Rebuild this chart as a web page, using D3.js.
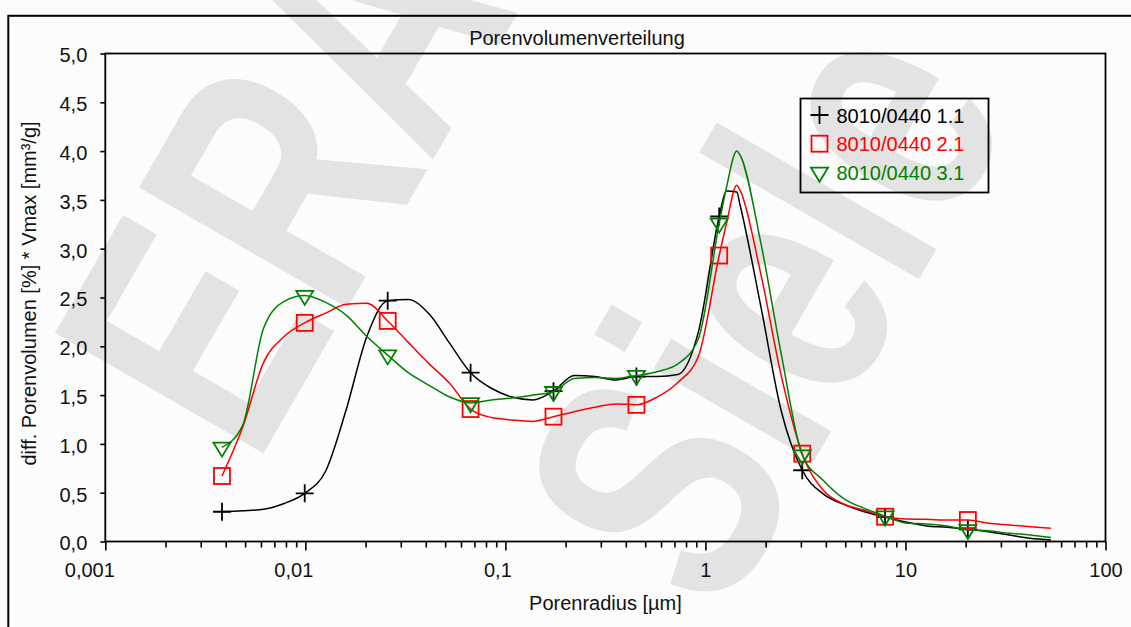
<!DOCTYPE html>
<html>
<head>
<meta charset="utf-8">
<script src="https://cdn.jsdelivr.net/npm/d3@7"></script>
<style>
  html, body { margin: 0; padding: 0; background: #fcfcfc; }
  svg { display: block; }
  text { font-family: "Liberation Sans", Arial, sans-serif; fill: #111; }
</style>
</head>
<body>
<svg id="chart" width="1131" height="627"></svg>
<script>
// Pore radius grid [µm] shared by all three samples
const radius = [
  0.00383, 0.00486, 0.00617, 0.00783, 0.00993, 0.01262, 0.0160, 0.0203, 0.0258, 0.0327,
  0.0416, 0.0527, 0.0670, 0.0851, 0.108, 0.137, 0.174, 0.221, 0.280, 0.356,
  0.452, 0.573, 0.728, 0.923, 1.172, 1.272, 1.435, 1.489, 1.888, 2.399,
  3.048, 3.864, 4.909, 6.223, 7.907, 10.02, 12.74, 16.18, 20.51, 26.06,
  33.04, 41.98, 53.33
];

// diff. pore volume [%] * Vmax [mm³/g]
const sample11 = [
  0.305, 0.315, 0.33, 0.39, 0.494, 0.72, 1.35, 2.10, 2.467, 2.48,
  2.33, 2.03, 1.73, 1.57, 1.48, 1.45, 1.54, 1.70, 1.69, 1.655,
  1.69, 1.69, 1.71, 2.15, 3.33, 3.59, 3.58, 3.45, 2.42, 1.33,
  0.73, 0.49, 0.38, 0.305, 0.25, 0.20, 0.16, 0.145, 0.125, 0.10,
  0.067, 0.033, 0.015
];
const sample21 = [
  0.671, 1.17, 1.83, 2.10, 2.24, 2.34, 2.43, 2.44, 2.26, 2.04,
  1.82, 1.62, 1.357, 1.27, 1.245, 1.23, 1.279, 1.33, 1.375, 1.41,
  1.40, 1.48, 1.63, 1.90, 2.93, 3.25, 3.65, 3.60, 2.75, 1.69,
  0.90, 0.53, 0.384, 0.32, 0.254, 0.23, 0.227, 0.22, 0.22, 0.186,
  0.17, 0.152, 0.135
];
const sample31 = [
  0.965, 1.19, 2.18, 2.46, 2.52, 2.45, 2.32, 2.10, 1.91, 1.73,
  1.60, 1.48, 1.42, 1.45, 1.47, 1.50, 1.535, 1.67, 1.68, 1.67,
  1.70, 1.74, 1.82, 2.08, 3.26, 3.62, 4.00, 3.96, 3.07, 1.91,
  0.886, 0.63, 0.44, 0.34, 0.26, 0.19, 0.18, 0.16, 0.12, 0.11,
  0.084, 0.067, 0.04
];

// Radii at which a symbol is drawn on each curve
const markerRadius = [0.00383, 0.00993, 0.0258, 0.0670, 0.174, 0.452, 1.172, 3.048, 7.907, 20.51];

const seriesNames = ["8010/0440 1.1", "8010/0440 2.1", "8010/0440 3.1"];
const seriesColors = ["#000000", "#ff0000", "#008000"];
const seriesSymbols = ["plus", "square", "triangle"];

const xTicks = [0.001, 0.01, 0.1, 1, 10, 100];
const yTicks = [0, 0.5, 1, 1.5, 2, 2.5, 3, 3.5, 4, 4.5, 5];

const titleText = "Porenvolumenverteilung";
const xTitle = "Porenradius [µm]";
const yTitle = "diff. Porenvolumen [%] * Vmax [mm³/g]";
const stampWords = ["ERA", "Siele"];

// ---------------------------------------------------------------
const svg = d3.select("#chart");
const plot = { left: 105.3, right: 1105.5, top: 53.5, bottom: 541.5 };

const x = d3.scaleLog().domain([0.001, 100]).range([plot.left, plot.right]);
const y = d3.scaleLinear().domain([0, 5]).range([plot.bottom, plot.top]);

const comma = v => String(v).replace(".", ",");

// large grey stamp lettering behind the diagram
const stamp = svg.append("g").attr("fill", "#e3e3e3");
[[255, 468], [721, 622]].forEach(([sx, sy], i) => {
  stamp.append("text")
    .attr("transform", `translate(${sx},${sy}) rotate(-60) scale(0.72,1)`)
    .attr("font-size", 350)
    .attr("font-weight", "bold")
    .style("fill", "#e3e3e3")
    .text(stampWords[i]);
});

// outer frame of the diagram window
svg.append("rect")
  .attr("x", 8.3).attr("y", 15.8)
  .attr("width", 1400).attr("height", 800)
  .attr("fill", "none").attr("stroke", "#000").attr("stroke-width", 2);

// title
svg.append("text")
  .attr("x", 577).attr("y", 45)
  .attr("text-anchor", "middle")
  .attr("font-size", 20)
  .text(titleText);

// plot frame
svg.append("rect")
  .attr("x", plot.left).attr("y", plot.top)
  .attr("width", plot.right - plot.left).attr("height", plot.bottom - plot.top)
  .attr("fill", "none").attr("stroke", "#000").attr("stroke-width", 1.8);

// x axis: decade ticks with labels, minor ticks without
const minorTicks = [];
for (let d = 0.001; d < 100; d *= 10) {
  for (let m = 2; m <= 9; m++) minorTicks.push(+(d * m).toPrecision(3));
}

const xMinor = svg.append("g")
  .attr("transform", `translate(0,${plot.bottom})`)
  .call(d3.axisBottom(x).tickValues(minorTicks).tickSize(6).tickFormat(""));
xMinor.select(".domain").remove();

const xMajor = svg.append("g")
  .attr("transform", `translate(0,${plot.bottom})`)
  .call(d3.axisBottom(x).tickValues(xTicks).tickSize(9).tickPadding(12)
    .tickFormat(d => comma(d)));
xMajor.select(".domain").remove();
xMajor.selectAll("text")
  .attr("font-size", 20)
  .attr("font-family", "'Liberation Sans', Arial, sans-serif")
  .attr("fill", "#111")
  .attr("dx", function () {
    const t = this.textContent;
    const dec = t.includes(",") ? t.split(",")[1].length : -1;
    return dec < 0 ? 0 : -(4 + 4 * dec);
  });

// y axis
const yAxis = svg.append("g")
  .attr("transform", `translate(${plot.left},0)`)
  .call(d3.axisLeft(y).tickValues(yTicks).tickSize(5).tickPadding(13)
    .tickFormat(d => d3.format(".1f")(d).replace(".", ",")));
yAxis.select(".domain").remove();
yAxis.selectAll("text")
  .attr("font-size", 20)
  .attr("font-family", "'Liberation Sans', Arial, sans-serif")
  .attr("fill", "#111")
  .attr("dy", "0.42em");

svg.selectAll(".tick line").attr("stroke", "#000").attr("stroke-width", 1.6);

// axis titles
svg.append("text")
  .attr("x", (plot.left + plot.right) / 2).attr("y", 610)
  .attr("text-anchor", "middle")
  .attr("font-size", 20)
  .text(xTitle);

svg.append("text")
  .attr("transform", "translate(35.5,293.5) rotate(-90)")
  .attr("text-anchor", "middle")
  .attr("font-size", 20)
  .text(yTitle);

// symbols
function symbol(sel, kind, color) {
  if (kind === "plus") {
    sel.append("path").attr("d", "M-9,0H9M0,-9V9")
      .attr("stroke", color).attr("stroke-width", 1.8).attr("fill", "none");
  } else if (kind === "square") {
    sel.append("rect").attr("x", -8).attr("y", -8).attr("width", 16).attr("height", 16)
      .attr("stroke", color).attr("stroke-width", 1.8).attr("fill", "none");
  } else {
    sel.append("path").attr("d", "M-8.5,-4.7L8.5,-4.7L0,9.3Z")
      .attr("stroke", color).attr("stroke-width", 1.8).attr("fill", "none");
  }
}

const series = [sample11, sample21, sample31].map((values, i) => ({
  name: seriesNames[i], values, color: seriesColors[i], symbol: seriesSymbols[i]
}));

const line = d3.line()
  .x((d, i) => x(radius[i]))
  .y(d => y(d))
  .curve(d3.curveMonotoneX);

const markerIndex = markerRadius.map(r => radius.indexOf(r));

series.forEach(s => {
  svg.append("path")
    .attr("d", line(s.values))
    .attr("fill", "none")
    .attr("stroke", s.color)
    .attr("stroke-width", 1.5)
    .attr("stroke-linejoin", "round");

  markerIndex.forEach(idx => {
    const g = svg.append("g")
      .attr("transform", `translate(${x(radius[idx])},${y(s.values[idx])})`);
    symbol(g, s.symbol, s.color);
  });
});

// legend
const legend = svg.append("g");
legend.append("rect")
  .attr("x", 800.5).attr("y", 98.5).attr("width", 188).attr("height", 94)
  .attr("fill", "none").attr("stroke", "#000").attr("stroke-width", 1.8);

series.forEach((s, i) => {
  const cy = 115 + i * 28.7;
  const g = legend.append("g").attr("transform", `translate(819.5,${cy})`);
  symbol(g, s.symbol, s.color);
  legend.append("text")
    .attr("x", 836.5).attr("y", cy + 7.5)
    .attr("font-size", 20)
    .style("fill", s.color)
    .text(s.name);
});
</script>
</body>
</html>
